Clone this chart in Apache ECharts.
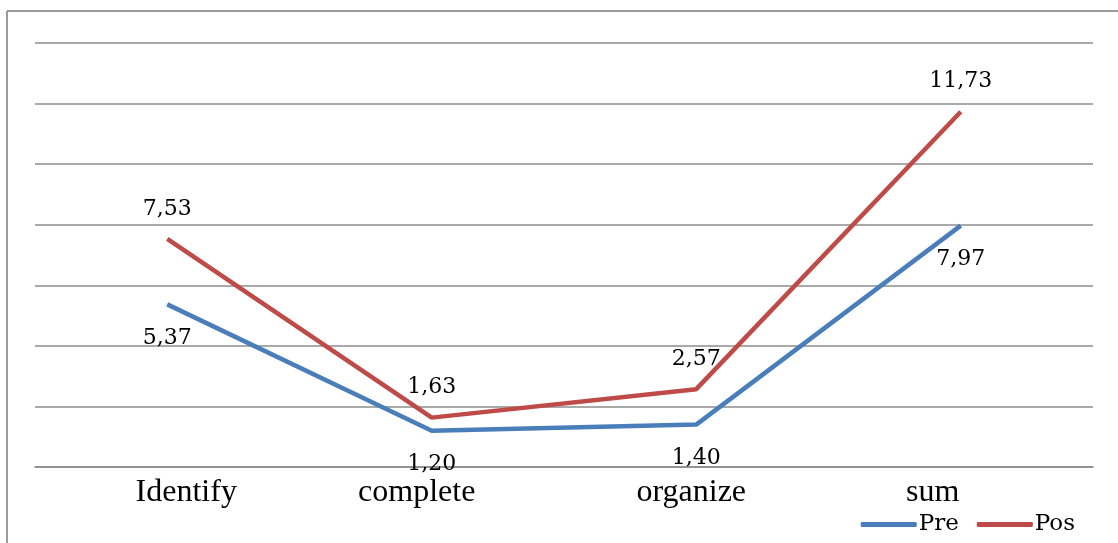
<!DOCTYPE html>
<html>
<head>
<meta charset="utf-8">
<script src="https://cdn.jsdelivr.net/npm/echarts@6/dist/echarts.min.js"></script>
<style>
  html, body { margin: 0; padding: 0; background: #fff; }
  #chart { width: 1118px; height: 543px; }
</style>
</head>
<body>
<div id="chart"></div>
<script>
// Skill categories and mean scores before (Pre) and after (Pos)
const categories = ['Identify', 'complete', 'organize', 'sum'];
const preScores = [5.37, 1.20, 1.40, 7.97];
const posScores = [7.53, 1.63, 2.57, 11.73];

// horizontal nudge (px) of each category caption under the axis
const captionShift = [19, -15, -5, -28];

const labelFont = 'DejaVu Serif';
const fmt = p => p.value.toFixed(2).replace('.', ',');

const axisData = categories.map((name, i) => {
  const s = captionShift[i];
  return {
    value: name,
    textStyle: { padding: s >= 0 ? [0, 0, 0, 2 * s] : [0, -2 * s, 0, 0] }
  };
});

const chart = echarts.init(document.getElementById('chart'));
chart.setOption({
  animation: false,
  backgroundColor: '#fff',
  grid: { left: 35, right: 25, top: 43, bottom: 76 },
  graphic: [
    { type: 'line', shape: { x1: 7, y1: 11, x2: 7, y2: 543 }, style: { stroke: '#9a9a9a', lineWidth: 2 } },
    { type: 'line', shape: { x1: 7, y1: 11, x2: 1118, y2: 11 }, style: { stroke: '#9a9a9a', lineWidth: 2 } }
  ],
  legend: {
    right: 38,
    bottom: 2,
    itemWidth: 56,
    itemHeight: 5,
    itemGap: 18,
    icon: 'roundRect',
    textStyle: { fontFamily: labelFont, fontSize: 23, color: '#000', padding: [0, 0, 0, -3] },
    data: ['Pre', 'Pos']
  },
  xAxis: {
    type: 'category',
    data: axisData,
    boundaryGap: true,
    axisLine: { lineStyle: { color: '#8c8c8c', width: 1.5 } },
    axisTick: { show: false },
    axisLabel: { fontFamily: 'Liberation Serif', fontSize: 32, color: '#000', margin: 10 }
  },
  yAxis: {
    type: 'value',
    min: 0,
    max: 14,
    interval: 2,
    axisLine: { show: false },
    axisTick: { show: false },
    axisLabel: { show: false },
    splitLine: { lineStyle: { color: '#8c8c8c', width: 1.5 } }
  },
  series: [
    {
      name: 'Pre',
      type: 'line',
      data: preScores,
      color: '#4a7ebb',
      lineStyle: { width: 4.5 },
      showSymbol: true,
      symbol: 'circle',
      symbolSize: 0,
      label: {
        show: true,
        position: 'bottom',
        distance: 23,
        formatter: fmt,
        fontFamily: labelFont,
        fontSize: 22,
        color: '#000'
      }
    },
    {
      name: 'Pos',
      type: 'line',
      data: posScores,
      color: '#be4b48',
      lineStyle: { width: 4.5 },
      showSymbol: true,
      symbol: 'circle',
      symbolSize: 0,
      label: {
        show: true,
        position: 'top',
        distance: 19,
        formatter: fmt,
        fontFamily: labelFont,
        fontSize: 22,
        color: '#000'
      }
    }
  ]
});
</script>
</body>
</html>
